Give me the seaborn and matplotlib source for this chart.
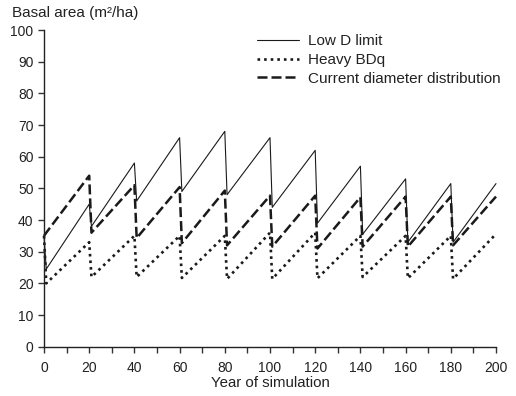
import matplotlib
matplotlib.use("Agg")
import matplotlib.pyplot as plt
import seaborn as sns
import pandas as pd
from matplotlib.ticker import MultipleLocator

# year of each point: value just before a cut and just after it
years = [0, 1, 20, 21, 40, 41, 60, 61, 80, 81, 100, 101,
         120, 121, 140, 141, 160, 161, 180, 181, 200]

low_d_limit = [35, 24.5, 45, 38, 58, 46, 66, 49, 68, 48, 66, 44,
               62, 39, 57, 35.5, 53, 33, 51.5, 33, 51.5]
heavy_bdq = [35, 20, 33, 22, 35, 22, 35, 21.7, 35, 21.4, 36, 21.4,
             36, 21.6, 35, 22, 35, 21.6, 35, 21.4, 35.6]
current_dist = [35, 36, 54, 36, 51, 34.3, 50.4, 32.7, 49.3, 32, 47.7, 31.6,
                47.7, 31, 47.2, 31.6, 47.4, 31.6, 47.4, 32, 47.4]

labels = ["Low D limit", "Heavy BDq", "Current diameter distribution"]

sns.set_style("ticks")
plt.rcParams["font.family"] = ["Liberation Sans", "DejaVu Sans"]
plt.rcParams["font.size"] = 10

fig = plt.figure(figsize=(5.16, 3.96), dpi=100)
ax = fig.add_axes([44 / 516, 1 - 346.7 / 396, 452 / 516, (346.7 - 30) / 396])

styles = [
    dict(lw=0.8, linestyle="-"),
    dict(lw=1.9, linestyle=(0, (1, 1.5))),
    dict(lw=1.8, linestyle=(0, (4, 1.6))),
]
for vals, lab, st in zip([low_d_limit, heavy_bdq, current_dist], labels, styles):
    df = pd.DataFrame({"year": years, "ba": vals})
    sns.lineplot(data=df, x="year", y="ba", ax=ax, color="#1a1a1a",
                 label=lab, clip_on=False, **st)

ax.set_xlim(0, 200)
ax.set_ylim(0, 100)
ax.xaxis.set_major_locator(MultipleLocator(20))
ax.xaxis.set_minor_locator(MultipleLocator(10))
ax.yaxis.set_major_locator(MultipleLocator(10))
ax.tick_params(which="both", direction="out", length=4, width=1,
               color="#333333", labelcolor="#222222", labelsize=10)
ax.tick_params(axis="x", pad=6)
for s in ["left", "bottom"]:
    ax.spines[s].set_color("#222222")
    ax.spines[s].set_linewidth(1)
sns.despine(ax=ax)

ax.set_xlabel("Year of simulation", fontsize=10.8, color="#222222", labelpad=1)
ax.set_ylabel("")
fig.text(12 / 516, 1 - 13 / 396, "Basal area (m\u00b2/ha)", fontsize=11,
         color="#222222", va="center", ha="left")

ax.legend(loc="upper left", bbox_to_anchor=(257 / 516, 1 - 34 / 396),
          bbox_transform=fig.transFigure, frameon=False, borderpad=0,
          borderaxespad=0, handlelength=2.75, handletextpad=0.6,
          labelspacing=0.32, fontsize=11, labelcolor="#222222")

fig.savefig("out.png", dpi=100)
